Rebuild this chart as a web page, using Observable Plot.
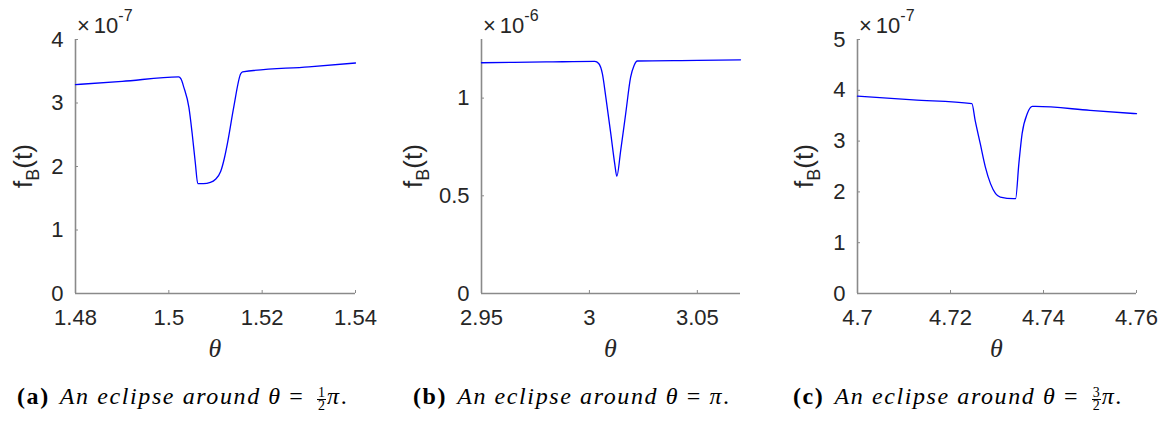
<!DOCTYPE html>
<html>
<head>
<meta charset="utf-8">
<script src="https://cdn.jsdelivr.net/npm/d3@7"></script>
<script src="https://cdn.jsdelivr.net/npm/@observablehq/plot@0.6"></script>
<style>
  body { margin: 0; background: #fff; width: 1172px; height: 423px; position: relative; overflow: hidden; }
  .panel { position: absolute; top: 0; }
  .cap { position: absolute; top: 381px; font-family: "Liberation Serif", "DejaVu Serif", serif; font-size: 24px; letter-spacing: 1.6px; color: #000; white-space: nowrap; line-height: 30px; }
  .cap b { font-weight: bold; font-style: normal; margin-right: 10px; }
  .cap i { font-style: italic; }
  .frac { display: inline-flex; flex-direction: column; align-items: center; vertical-align: 7px; font-size: 14px; line-height: 12px; letter-spacing: 0; margin: 0 1px 0 5px; }
  .frac span:first-child { border-bottom: 1px solid #000; padding: 0 1px; }
</style>
</head>
<body>
<div id="pa" class="panel" style="left:0px"></div>
<div id="pb" class="panel" style="left:390px"></div>
<div id="pc" class="panel" style="left:780px"></div>
<div class="cap" style="left:17px"><b>(a)</b><i>An eclipse around θ</i> = <span class="frac"><span>1</span><span>2</span></span><i>π</i>.</div>
<div class="cap" style="left:413px"><b>(b)</b><i>An eclipse around θ</i> = <i>π</i>.</div>
<div class="cap" style="left:793px"><b>(c)</b><i>An eclipse around θ</i> = <span class="frac"><span>3</span><span>2</span></span><i>π</i>.</div>
<script>
// Eclipse around θ = π/2 (flux in units of 1e-7)
const thetaA = [1.48, 1.49, 1.5021, 1.5026, 1.5032, 1.5043, 1.5050, 1.5057, 1.5062, 1.5074, 1.5089, 1.5100, 1.5111, 1.5119, 1.5126, 1.5139, 1.5154, 1.5158, 1.53, 1.54];
const fluxA  = [3.29, 3.34, 3.41, 3.38, 3.25, 2.93, 2.52, 2.04, 1.73, 1.73, 1.75, 1.80, 1.92, 2.13, 2.38, 2.93, 3.46, 3.49, 3.57, 3.63];

// Eclipse around θ = π (flux in units of 1e-6)
const thetaB = [2.95, 2.98, 3.0025, 3.0043, 3.0060, 3.0076, 3.0099, 3.0117, 3.0127, 3.0145, 3.0168, 3.0191, 3.0207, 3.0222, 3.05, 3.07];
const fluxB  = [1.181, 1.185, 1.188, 1.177, 1.125, 1.005, 0.818, 0.666, 0.600, 0.733, 0.920, 1.107, 1.167, 1.190, 1.193, 1.196];

// Eclipse around θ = 3π/2 (flux in units of 1e-7)
const thetaC = [4.70, 4.712, 4.7246, 4.7253, 4.7264, 4.7275, 4.7286, 4.7297, 4.7307, 4.7336, 4.7340, 4.7347, 4.7354, 4.7365, 4.7376, 4.7383, 4.75, 4.76];
const fluxC  = [3.885, 3.812, 3.736, 3.407, 2.949, 2.489, 2.163, 1.966, 1.899, 1.868, 1.868, 2.556, 3.146, 3.539, 3.683, 3.683, 3.606, 3.539];

// Axis ticks and multipliers
const xTicksA = [1.48, 1.50, 1.52, 1.54];
const xTicksB = [2.95, 3.00, 3.05];
const xTicksC = [4.70, 4.72, 4.74, 4.76];
const yTicksA = [0, 1, 2, 3, 4];
const yTicksB = [0, 0.5, 1];
const yTicksC = [0, 1, 2, 3, 4, 5];
const exponentA = "-7";
const exponentB = "-6";
const exponentC = "-7";

const axisGray = "#8a8a8a";
const textGray = "#262626";
const H = 365, MT = 39, MB = 72;

function fmt(d) { return String(+d.toFixed(4)); }

function panel(el, { width, marginLeft, marginRight, theta, flux, xDomain, xTicks, yDomain, yTicks, exponent, labelX }) {
  const data = theta.map((t, i) => ({ t, f: flux[i] }));
  const svg = Plot.plot({
    width, height: H, marginLeft, marginRight, marginTop: MT, marginBottom: MB,
    style: { fontFamily: "'Liberation Sans', Arial, sans-serif", fontSize: "22px", color: textGray, background: "transparent", overflow: "visible" },
    x: { domain: xDomain },
    y: { domain: yDomain },
    marks: [
      Plot.ruleY([yDomain[0]], { stroke: axisGray, strokeWidth: 1.6 }),
      Plot.ruleX([xDomain[0]], { y1: yDomain[0], y2: yDomain[1], stroke: axisGray, strokeWidth: 1.6 }),
      Plot.axisX({ ticks: xTicks, tickFormat: fmt, tickSize: -3, tickPadding: 19, stroke: axisGray, fill: textGray, label: null }),
      Plot.axisY({ ticks: yTicks, tickFormat: fmt, tickSize: -3, tickPadding: 15, stroke: axisGray, fill: textGray, label: null }),
      Plot.line(data, { x: "t", y: "f", stroke: "#0000ff", strokeWidth: 1.3, curve: "monotone-x", strokeLinejoin: "round" })
    ]
  });
  el.appendChild(svg);
  const s = d3.select(svg);
  const cx = marginLeft + (width - marginLeft - marginRight) / 2;
  const cy = MT + (H - MT - MB) / 2;

  // exponent multiplier above the y axis
  const m = s.append("text")
    .attr("x", marginLeft + 2).attr("y", 33)
    .attr("text-anchor", "start")
    .attr("fill", textGray)
    .style("font-family", "'Liberation Sans', Arial, sans-serif")
    .style("font-size", "22px");
  m.append("tspan").text("×");
  m.append("tspan").attr("dx", 4).text("10");
  m.append("tspan").attr("dy", -12).style("font-size", "16px").text(exponent);

  // y-axis label f_B(t)
  const yl = s.append("text")
    .attr("transform", `translate(${labelX},${cy}) rotate(-90)`)
    .attr("text-anchor", "middle")
    .attr("fill", textGray)
    .style("font-family", "'Liberation Sans', Arial, sans-serif")
    .style("font-size", "26px");
  yl.append("tspan").text("f");
  yl.append("tspan").attr("dy", 7).style("font-size", "18px").text("B");
  yl.append("tspan").attr("dy", -7).text("(t)");

  // x-axis label θ
  s.append("text")
    .attr("x", cx).attr("y", 357)
    .attr("text-anchor", "middle")
    .attr("fill", textGray)
    .style("font-family", "'Liberation Serif', 'DejaVu Serif', serif")
    .style("font-style", "italic")
    .style("font-size", "26px")
    .text("θ");
}

panel(document.getElementById("pa"), {
  width: 390, marginLeft: 75, marginRight: 35,
  theta: thetaA, flux: fluxA, xDomain: [1.48, 1.54], xTicks: xTicksA,
  yDomain: [0, 4], yTicks: yTicksA, exponent: exponentA, labelX: 32
});
panel(document.getElementById("pb"), {
  width: 390, marginLeft: 91, marginRight: 40,
  theta: thetaB, flux: fluxB, xDomain: [2.95, 3.07], xTicks: xTicksB,
  yDomain: [0, 1.3], yTicks: yTicksB, exponent: exponentB, labelX: 32
});
panel(document.getElementById("pc"), {
  width: 392, marginLeft: 77, marginRight: 36,
  theta: thetaC, flux: fluxC, xDomain: [4.70, 4.76], xTicks: xTicksC,
  yDomain: [0, 5], yTicks: yTicksC, exponent: exponentC, labelX: 33
});
</script>
</body>
</html>
